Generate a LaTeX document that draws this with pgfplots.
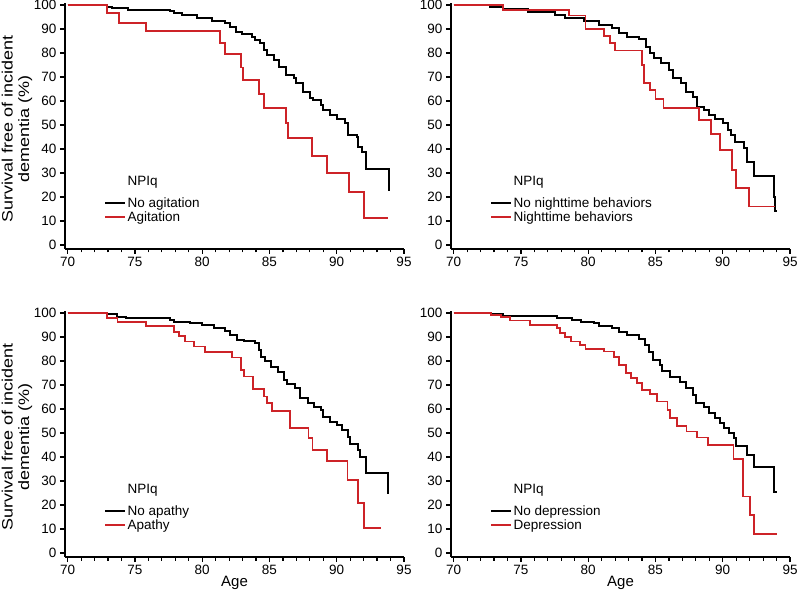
\documentclass[border=0pt]{standalone}
\usepackage{pgfplots}
\usepackage{graphicx}
\pgfplotsset{compat=1.18}
\usepackage{fontspec}
\setmainfont{Liberation Sans}
\definecolor{kmred}{RGB}{205,35,40}

\pgfplotstableread{
age surv
70 100
72.9 99.3
73.3 98.6
74.5 97.9
77.6 97.6
77.9 96.5
78.5 95.6
79.6 94.4
80.7 93.5
81.7 92.4
82.1 91.0
82.5 88.6
82.96 87.8
83.7 86.8
83.95 85.4
84.3 84.0
84.6 81.3
84.85 79.2
85.3 77.1
85.7 74.3
86.2 70.8
86.8 69.4
87.0 67.4
87.5 63.9
88.0 61.1
88.2 60.4
88.8 58.3
89.0 56.2
89.5 54.0
90.0 52.6
90.6 50.7
90.8 45.8
91.5 45.1
91.6 40.9
91.9 38.7
92.2 31.8
93.85 22.9
93.95 22.9
}\noagit
\pgfplotstableread{
age surv
70 100
72.9 96.5
73.8 92.6
75.8 89.2
81.3 84.3
81.7 79.4
82.9 73.9
83.05 68.75
84.24 62.8
84.6 57.2
86.2 50.7
86.4 44.7
88.15 37.2
89.26 29.9
90.9 22.2
92.0 11.1
93.84 11.1
}\agit
\pgfplotstableread{
age surv
70 100
72.7 99.3
73.7 98.2
75.5 96.9
77.5 95.8
78.3 94.4
79.7 93.1
80.8 91.7
81.8 90.3
82.3 88.2
82.9 86.8
83.8 85.7
84.3 82.6
84.6 79.9
84.9 77.8
85.4 75.7
86.0 72.9
86.3 69.4
86.9 67.4
87.3 63.9
87.8 61.8
88.1 57.6
88.6 56.2
89.0 54.0
89.4 52.6
90.0 50.7
90.4 47.9
90.6 45.8
90.9 43.0
91.6 40.3
91.8 34.7
92.3 28.7
93.8 20.1
93.9 14.3
94.0 14.3
}\nonight
\pgfplotstableread{
age surv
70 100
73.67 97.9
78.58 95.6
79.8 90.0
81.2 87.1
81.6 84.3
82.0 81.0
84.0 75.0
84.15 67.4
84.6 64.6
85.0 60.9
85.6 57.0
88.26 52.1
89.1 46.3
89.8 39.6
90.7 31.2
90.96 23.6
91.96 16.0
93.9 16.0
}\night
\pgfplotstableread{
age surv
70 100
72.9 99.4
73.7 98.5
74.3 97.8
77.6 96.9
77.9 96.3
79.1 95.7
80.0 95.0
80.9 93.6
81.7 92.6
82.1 90.8
82.6 88.8
83.1 88.1
83.9 87.4
84.2 84.6
84.4 81.8
84.7 79.8
85.1 77.6
85.6 75.2
86.1 72.2
86.3 70.4
86.9 68.7
87.3 64.4
87.9 62.4
88.3 61.0
88.8 59.6
89.0 56.8
89.5 54.7
90.0 53.3
90.4 51.3
90.8 48.5
91.0 45.4
91.6 42.9
91.7 40.1
92.2 33.2
93.8 24.9
93.9 24.9
}\noapathy
\pgfplotstableread{
age surv
70 100
72.9 97.8
73.7 96.1
75.8 94.6
77.9 92.2
78.3 90.4
78.7 88.1
79.4 86.0
80.2 83.6
82.2 81.4
82.9 76.2
83.1 73.5
83.8 68.2
84.6 65.2
84.8 62.4
85.2 59.2
86.5 51.9
87.9 47.8
88.2 42.9
89.3 38.3
90.8 30.4
91.6 20.7
92.0 10.3
93.3 10.3
}\apathy
\pgfplotstableread{
age surv
70 100
72.8 99.4
73.7 98.7
77.7 97.8
78.8 97.1
79.5 96.4
80.4 95.7
80.8 94.6
81.8 93.6
82.3 92.2
82.9 90.8
83.8 89.0
84.2 86.7
84.5 83.9
84.8 80.4
85.3 78.4
85.5 75.6
86.1 73.5
86.8 71.4
87.3 68.6
87.8 65.8
88.0 62.4
88.6 60.7
89.0 58.2
89.4 56.1
89.8 54.3
90.1 51.9
90.5 50.1
90.8 47.8
91.0 44.6
91.8 40.8
92.3 36.0
93.8 25.6
94.0 25.6
}\nodep
\pgfplotstableread{
age surv
70 100
72.8 99.2
73.5 98.2
74.2 96.8
75.7 95.0
77.7 93.6
77.9 91.5
78.3 89.9
78.7 88.1
79.4 86.7
79.8 85.0
81.2 83.9
81.9 81.8
82.3 78.4
82.8 74.9
83.2 72.8
83.6 70.7
84.0 67.9
84.6 66.1
85.1 63.1
85.9 59.6
86.1 56.1
86.6 53.0
87.3 50.6
88.1 48.1
88.9 45.0
90.8 39.0
91.5 23.5
92.0 15.9
92.3 7.9
94.0 7.9
}\dep

\pgfplotsset{
  kmaxis/.style={
    scale only axis, width=339bp, height=246bp,
    anchor=south west,
    xmin=69.8, xmax=95, ymin=-1.67, ymax=100.8,
    axis lines=left,
    axis line style={-, line width=2.5bp, black},
    x axis line style={-, line width=2.5bp},
    y axis line style={-, line width=2.5bp},
    xtick={70,75,...,95}, ytick={0,10,...,100},
    minor x tick num=4,
    tick align=outside,
    major tick length=5bp, minor tick length=3.5bp,
    every tick/.style={black, line width=1.2bp},
    tick label style={font=\fontsize{13.5bp}{16bp}\selectfont},
    /pgf/number format/assume math mode=true,
    legend style={at={(axis cs:72.7,20.5)}, anchor=north west, draw=none, fill=none,
      inner sep=0pt, font=\fontsize{13.5bp}{16bp}\selectfont, row sep=0pt,
      nodes={inner sep=1.5bp}},
    legend cell align=left,
    legend image code/.code={\draw[##1] (0bp,0bp) -- (20bp,0bp);},
  },
  blk/.style={black, line width=2bp, const plot, mark=none, line join=miter},
  rd/.style={kmred, line width=1.8bp, const plot, mark=none, line join=miter},
}

\begin{document}
\begin{tikzpicture}
\useasboundingbox (0,0) rectangle (797bp,599bp);

\begin{axis}[kmaxis, at={(65bp,350bp)}]
\addplot[blk] table[x=age,y=surv] {\noagit};
\addplot[rd] table[x=age,y=surv] {\agit};
\legend{No agitation, Agitation}
\node[anchor=west, font=\fontsize{13.5bp}{16bp}\selectfont] at (axis cs:74.2,26.3) {NPIq};
\end{axis}

\begin{axis}[kmaxis, at={(451bp,350bp)}]
\addplot[blk] table[x=age,y=surv] {\nonight};
\addplot[rd] table[x=age,y=surv] {\night};
\legend{No nighttime behaviors, Nighttime behaviors}
\node[anchor=west, font=\fontsize{13.5bp}{16bp}\selectfont] at (axis cs:74.2,26.3) {NPIq};
\end{axis}

\begin{axis}[kmaxis, at={(65bp,42bp)}]
\addplot[blk] table[x=age,y=surv] {\noapathy};
\addplot[rd] table[x=age,y=surv] {\apathy};
\legend{No apathy, Apathy}
\node[anchor=west, font=\fontsize{13.5bp}{16bp}\selectfont] at (axis cs:74.2,26.3) {NPIq};
\end{axis}

\begin{axis}[kmaxis, at={(451bp,42bp)}]
\addplot[blk] table[x=age,y=surv] {\nodep};
\addplot[rd] table[x=age,y=surv] {\dep};
\legend{No depression, Depression}
\node[anchor=west, font=\fontsize{13.5bp}{16bp}\selectfont] at (axis cs:74.2,26.3) {NPIq};
\end{axis}

\node[rotate=90, align=center, font=\fontsize{15bp}{16.5bp}\selectfont] at (17bp,470bp)
  {\scalebox{1.2}[1]{Survival free of incident}\\\scalebox{1.2}[1]{dementia (\%)}};
\node[rotate=90, align=center, font=\fontsize{15bp}{16.5bp}\selectfont] at (17bp,162bp)
  {\scalebox{1.2}[1]{Survival free of incident}\\\scalebox{1.2}[1]{dementia (\%)}};
\node[font=\fontsize{15bp}{18bp}\selectfont] at (234.5bp,16bp) {Age};
\node[font=\fontsize{15bp}{18bp}\selectfont] at (620.5bp,16bp) {Age};
\end{tikzpicture}
\end{document}
